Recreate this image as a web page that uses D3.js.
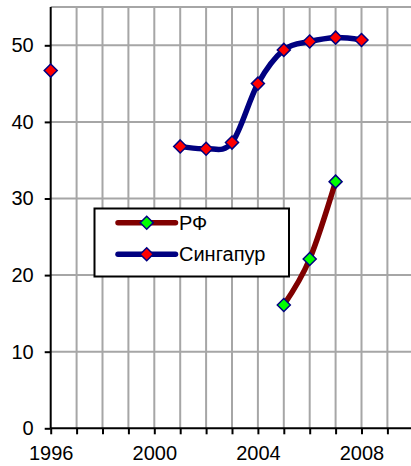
<!DOCTYPE html>
<html><head><meta charset="utf-8">
<script src="https://cdn.jsdelivr.net/npm/d3@7"></script>
<style>body{margin:0;background:#fff}svg{display:block}text{font-family:"Liberation Sans",Arial,sans-serif}</style>
</head><body>
<script>
const years = [1996,1997,1998,1999,2000,2001,2002,2003,2004,2005,2006,2007,2008];
const singapore = [46.7,null,null,null,null,36.8,36.5,37.3,45.0,49.4,50.5,51.0,50.7];
const rf = [null,null,null,null,null,null,null,null,null,16.1,22.1,32.2,null];
const yTicks = [0,10,20,30,40,50];
const xLabels = [1996,2000,2004,2008];
const seriesNames = ["РФ","Сингапур"];

const W=411,H=466;
const svg=d3.select("body").append("svg").attr("width",W).attr("height",H);
const x=d3.scaleLinear().domain([1996,2010]).range([50.7,413.3]);
const y=d3.scaleLinear().domain([0,55]).range([428.3,7]);

// gridlines
const g=svg.append("g");
g.selectAll(".vg").data(d3.range(1997,2011)).enter().append("line")
 .attr("x1",d=>x(d)).attr("x2",d=>x(d)).attr("y1",y(0)).attr("y2",y(55))
 .attr("stroke","#a6a6a6").attr("stroke-width",2);
g.selectAll(".hg").data([10,20,30,40,50,55]).enter().append("line")
 .attr("x1",x(1996)).attr("x2",W).attr("y1",d=>y(d)).attr("y2",d=>y(d))
 .attr("stroke","#a6a6a6").attr("stroke-width",2);

// axes
const yAxis=d3.axisLeft(y).tickValues(yTicks).tickSize(6).tickPadding(11);
const ya=svg.append("g").attr("transform",`translate(${x(1996)},0)`).call(yAxis);
const xAxis=d3.axisBottom(x).tickValues(d3.range(1996,2010)).tickSize(6).tickPadding(12)
  .tickFormat(d=>xLabels.includes(d)?String(d):"");
const xa=svg.append("g").attr("transform",`translate(0,${y(0)})`).call(xAxis);
[ya,xa].forEach(a=>{
  a.attr("font-size",20).attr("font-family","Liberation Sans, Arial, sans-serif");
  a.select(".domain").attr("stroke","#000").attr("stroke-width",2);
  a.selectAll(".tick line").attr("stroke","#000").attr("stroke-width",2);
  a.selectAll("text").style("font-size","20px").attr("fill","#000");
});
ya.select(".domain").attr("d",`M0,${y(55)}V${y(0)}`);
xa.select(".domain").attr("d",`M${x(1996)},0H${W}`);

const line=d3.line().defined(d=>d.v!=null).x(d=>x(d.t)).y(d=>y(d.v)).curve(d3.curveCardinal.tension(0));
const diamond=(sel,cx,cy,fill)=>sel.append("path")
  .attr("d",`M${cx},${cy-6.5}L${cx+6.5},${cy}L${cx},${cy+6.5}L${cx-6.5},${cy}Z`)
  .attr("fill",fill).attr("stroke","#000080").attr("stroke-width",1.5);

const sData=years.map((t,i)=>({t,v:singapore[i]}));
const rData=years.map((t,i)=>({t,v:rf[i]}));
svg.append("path").datum(sData).attr("d",line).attr("fill","none").attr("stroke","#000080").attr("stroke-width",5.5).attr("stroke-linecap","round");
svg.append("path").datum(rData).attr("d",line).attr("fill","none").attr("stroke","#800000").attr("stroke-width",5.5).attr("stroke-linecap","round");
sData.filter(d=>d.v!=null).forEach(d=>diamond(svg,x(d.t),y(d.v),"#ff0000"));
rData.filter(d=>d.v!=null).forEach(d=>diamond(svg,x(d.t),y(d.v),"#00ff00"));

// legend
const lg=svg.append("g");
lg.append("rect").attr("x",94.5).attr("y",208.5).attr("width",194.5).attr("height",68).attr("fill","#fff").attr("stroke","#000").attr("stroke-width",2);
const items=[{name:seriesNames[0],lc:"#800000",mc:"#00ff00",yy:222.7},{name:seriesNames[1],lc:"#000080",mc:"#ff0000",yy:254.3}];
items.forEach(it=>{
  lg.append("line").attr("x1",118).attr("x2",175.5).attr("y1",it.yy).attr("y2",it.yy).attr("stroke",it.lc).attr("stroke-width",5.5).attr("stroke-linecap","round");
  diamond(lg,146.7,it.yy,it.mc);
  lg.append("text").attr("x",179).attr("y",it.yy+7).style("font-size","20px").attr("fill","#000").text(it.name);
});
</script>
</body></html>
